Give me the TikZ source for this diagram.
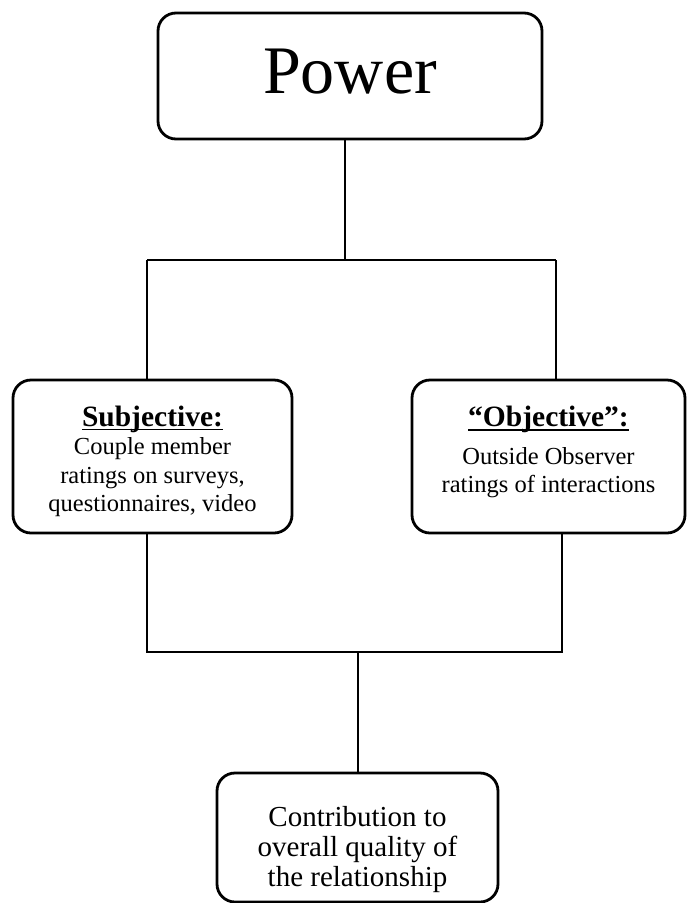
\documentclass[tikz,border=0pt]{standalone}
\usepackage{fontspec}
\setmainfont{Liberation Serif}
\newcommand{\ulhead}[1]{{\fontsize{29.5}{34}\selectfont\bfseries
  \setbox0\hbox{#1}\rlap{\rule[-4pt]{\wd0}{1.6pt}}\box0}}

\begin{document}
\begin{tikzpicture}[
    x=1pt, y=-1pt,
    box/.style={draw, rounded corners=18pt, line width=2.8pt, align=center, inner sep=0pt},
    body/.style={font=\fontsize{24.5}{28.5}\selectfont},
    link/.style={line width=1.8pt}
]
    \useasboundingbox (0,0) rectangle (686,903);
    % top node
    \node[box, minimum width=384pt, minimum height=126pt,
          font=\fontsize{68}{80}\selectfont] (power) at (350,76) {Power\rule[-10pt]{0pt}{0pt}};
    % measure nodes
    \node[box, body, minimum width=279pt, minimum height=153pt] (subj) at (152.5,456.5)
        {\rule{0pt}{30pt}\ulhead{Subjective:}\\Couple member\\ratings on surveys,\\questionnaires, video};
    \node[box, body, minimum width=273pt, minimum height=153pt] (obj) at (548.5,456.5)
        {\ulhead{``Objective'':}\\[9pt]Outside Observer\\ratings of interactions\rule[-14pt]{0pt}{0pt}};
    % outcome node
    \node[box, minimum width=281pt, minimum height=129pt,
          font=\fontsize{29}{30}\selectfont] (contrib) at (357.5,837.5)
        {\rule{0pt}{45pt}Contribution to\\overall quality of\\the relationship};
    % upper connectors
    \coordinate (top split) at (345,260);
    \coordinate (top left)  at (147,260);
    \coordinate (top right) at (556,260);
    \draw[link] (top split |- power.south) -- (top split);
    \draw[link] (top left) -- (top right);
    \draw[link] (top left) -- (top left |- subj.north);
    \draw[link] (top right) -- (top right |- obj.north);
    % lower connectors
    \coordinate (bot left)  at (147,652);
    \coordinate (bot right) at (562,652);
    \coordinate (bot join)  at (358,652);
    \draw[link] (bot left |- subj.south) -- (bot left) -- (bot right) -- (bot right |- obj.south);
    \draw[link] (bot join) -- (bot join |- contrib.north);
\end{tikzpicture}
\end{document}
